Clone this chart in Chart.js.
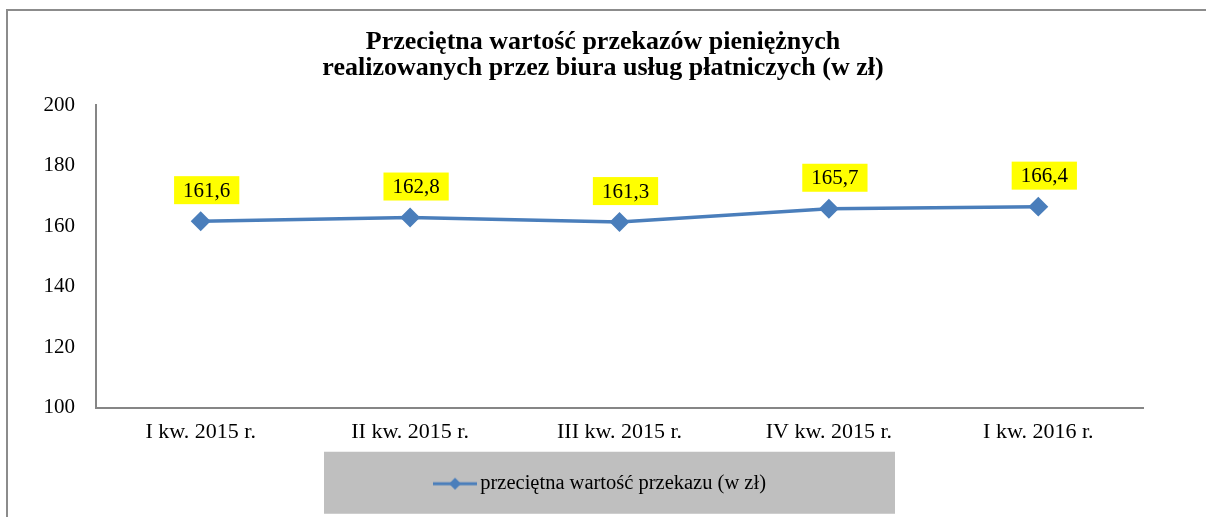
<!DOCTYPE html>
<html lang="pl">
<head>
<meta charset="utf-8">
<title>Przeciętna wartość przekazów pieniężnych</title>
<script src="https://cdn.jsdelivr.net/npm/chart.js@4.4.1/dist/chart.umd.min.js"></script>
<style>
  html, body { margin: 0; padding: 0; background: #fff; overflow: hidden; }
  #wrap { position: relative; width: 1206px; height: 517px; }
  #ramka {
    position: absolute; left: 6px; top: 9px; width: 1300px; height: 600px;
    border-top: 2px solid #8c8c8c; border-left: 2px solid #8c8c8c;
    pointer-events: none;
  }
</style>
</head>
<body>
<div id="wrap">
  <canvas id="myChart"></canvas>
  <div id="ramka"></div>
</div>
<script>
'use strict';

// dane
const kwartaly = ['I kw. 2015 r.', 'II kw. 2015 r.', 'III kw. 2015 r.', 'IV kw. 2015 r.', 'I kw. 2016 r.'];
const wartosci = [161.6, 162.8, 161.3, 165.7, 166.4];
const tytul = ['Przeciętna wartość przekazów pieniężnych', 'realizowanych przez biura usług płatniczych (w zł)'];
const nazwaSerii = 'przeciętna wartość przekazu (w zł)';
const osY = { min: 100, max: 200, krok: 20 };

const niebieski = '#4A7EBB';
const szeryf = "'Liberation Serif', 'Times New Roman', serif";

// ikonka legendy: linia z rombem (szersza niż pole, żeby tekst był blisko)
function ikonaLegendy() {
  const c = document.createElement('canvas');
  c.width = 44; c.height = 14;
  const g = c.getContext('2d');
  g.strokeStyle = niebieski;
  g.lineWidth = 3;
  g.beginPath(); g.moveTo(0, 7); g.lineTo(44, 7); g.stroke();
  g.fillStyle = niebieski;
  g.beginPath(); g.moveTo(22, 1); g.lineTo(28, 7); g.lineTo(22, 13); g.lineTo(16, 7); g.closePath(); g.fill();
  return c;
}

// szare tło pod legendą
const tloLegendy = {
  id: 'tloLegendy',
  beforeDraw(chart) {
    const lg = chart.legend;
    if (!lg || !lg.legendHitBoxes || !lg.legendHitBoxes.length) return;
    const hb = lg.legendHitBoxes[0];
    const srodekY = hb.top + hb.height / 2;
    const ctx = chart.ctx;
    ctx.save();
    ctx.fillStyle = '#BFBFBF';
    ctx.fillRect(324, srodekY - 32, 571, 62);
    ctx.restore();
  }
};

// etykiety danych z żółtym tłem
const etykiety = {
  id: 'etykiety',
  afterDatasetsDraw(chart) {
    const ctx = chart.ctx;
    const meta = chart.getDatasetMeta(0);
    ctx.save();
    ctx.font = '21px ' + szeryf;
    ctx.textAlign = 'center';
    ctx.textBaseline = 'middle';
    meta.data.forEach((pt, i) => {
      const tekst = wartosci[i].toFixed(1).replace('.', ',');
      const w = ctx.measureText(tekst).width + 18;
      const h = 28;
      const cx = pt.x + 6;
      const cy = pt.y - 31;
      ctx.fillStyle = '#FFFF00';
      ctx.fillRect(cx - w / 2, cy - h / 2, w, h);
      ctx.fillStyle = '#000';
      ctx.fillText(tekst, cx, cy + 1);
    });
    ctx.restore();
  }
};

const ctx = document.getElementById('myChart').getContext('2d');
const myChart = new Chart(ctx, {
  type: 'line',
  data: {
    labels: kwartaly,
    datasets: [{
      label: nazwaSerii,
      data: wartosci,
      borderColor: niebieski,
      backgroundColor: niebieski,
      borderWidth: 3.5,
      pointStyle: 'rectRot',
      pointRadius: 7.5,
      pointBackgroundColor: niebieski,
      pointBorderColor: niebieski,
      tension: 0
    }]
  },
  options: {
    responsive: true,
    maintainAspectRatio: false,
    animation: false,
    layout: { padding: { top: 0, right: 0, bottom: 13, left: 0 } },
    plugins: {
      title: {
        display: true,
        text: tytul,
        color: '#000',
        font: { family: szeryf, size: 26, weight: 'bold', lineHeight: 1.0 },
        padding: { top: 29, bottom: 24 }
      },
      legend: {
        position: 'bottom',
        labels: {
          color: '#000',
          font: { family: szeryf, size: 20.5 },
          usePointStyle: true,
          pointStyleWidth: 30,
          padding: 26,
          generateLabels: (chart) => [{
            text: nazwaSerii,
            pointStyle: ikonaLegendy(),
            fillStyle: niebieski,
            strokeStyle: niebieski,
            lineWidth: 0,
            datasetIndex: 0
          }]
        }
      },
      tooltip: { enabled: false }
    },
    scales: {
      x: {
        offset: true,
        grid: { display: false },
        border: { color: '#868686', width: 2 },
        ticks: { color: '#000', font: { family: szeryf, size: 22 }, padding: 4, maxRotation: 0 },
        afterFit: (s) => { s.height = 40; }
      },
      y: {
        min: osY.min,
        max: osY.max,
        grid: { display: false },
        border: { color: '#868686', width: 2 },
        ticks: { stepSize: osY.krok, color: '#000', font: { family: szeryf, size: 21 }, padding: 13 },
        afterFit: (s) => { s.width = 96; }
      },
      // pusty margines po prawej stronie obszaru wykresu
      prawy: {
        position: 'right',
        min: 0,
        max: 1,
        grid: { display: false },
        border: { display: false },
        ticks: { display: false },
        afterFit: (s) => { s.width = 63; }
      }
    }
  },
  plugins: [tloLegendy, etykiety]
});
</script>
</body>
</html>
